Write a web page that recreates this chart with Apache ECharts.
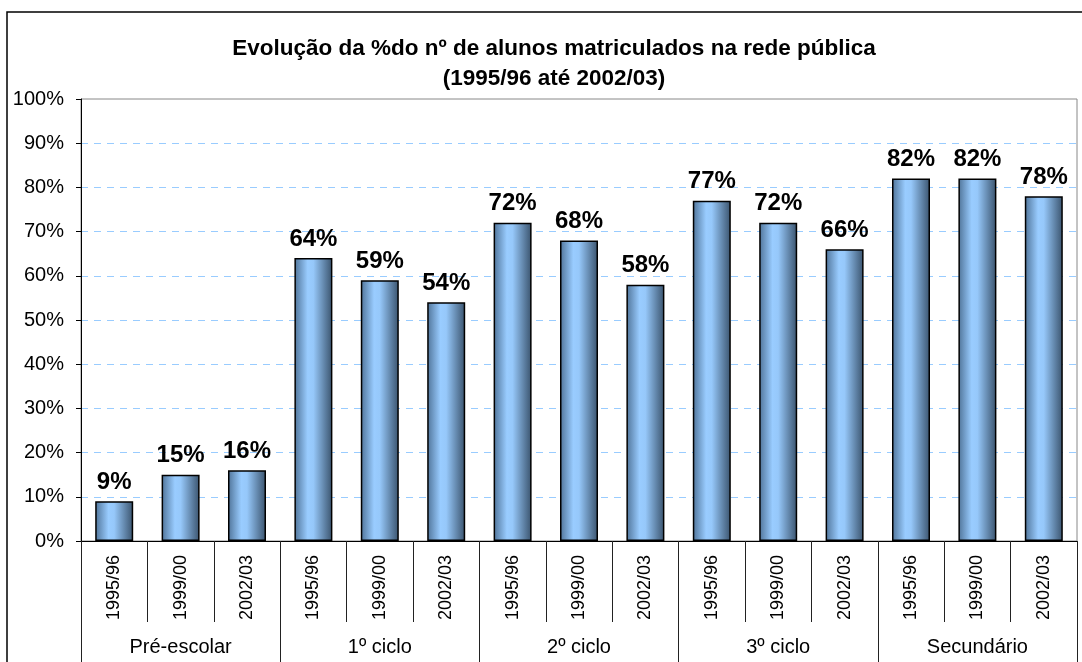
<!DOCTYPE html>
<html>
<head>
<meta charset="utf-8">
<script src="https://cdn.jsdelivr.net/npm/echarts@6/dist/echarts.min.js"></script>
<style>html,body{margin:0;padding:0;background:#fff}#c{width:1082px;height:662px}</style>
</head>
<body>
<div id="c"></div>
<script>
const titleText = 'Evolução da %do nº de alunos matriculados na rede pública\n(1995/96 até 2002/03)';
const groups = ['Pré-escolar', '1º ciclo', '2º ciclo', '3º ciclo', 'Secundário'];
const years = ['1995/96', '1999/00', '2002/03'];
const preEscolar = [9, 15, 16];
const cicloPrimeiro = [64, 59, 54];
const cicloSegundo = [72, 68, 58];
const cicloTerceiro = [77, 72, 66];
const secundario = [82, 82, 78];
const yTicks = [0, 10, 20, 30, 40, 50, 60, 70, 80, 90, 100];

const groupValues = [preEscolar, cicloPrimeiro, cicloSegundo, cicloTerceiro, secundario];
const categories = [];
const values = [];
groupValues.forEach(g => g.forEach((v, i) => { categories.push(years[i]); values.push(v); }));

const FONT = "'Liberation Sans', Arial, sans-serif";
const splitColors = yTicks.map((t, i) => (i === 0 || i === yTicks.length - 1) ? 'rgba(0,0,0,0)' : '#99ccff');

const chart = echarts.init(document.getElementById('c'));
chart.setOption({
  animation: false,
  backgroundColor: '#fff',
  textStyle: { fontFamily: FONT },
  title: {
    text: titleText,
    left: 549,
    textAlign: 'center',
    top: 29,
    textStyle: { fontFamily: FONT, fontSize: 22.5, fontWeight: 'bold', color: '#000', lineHeight: 30 }
  },
  graphic: [{
    type: 'rect', silent: true, z: -1,
    shape: { x: 7, y: 12, width: 1200, height: 800 },
    style: { fill: 'none', stroke: '#000', lineWidth: 1.5 }
  }],
  grid: {
    left: 81, right: 5, top: 99, bottom: 121,
    show: true, borderColor: '#888', borderWidth: 1, backgroundColor: 'rgba(0,0,0,0)'
  },
  yAxis: {
    type: 'value', min: 0, max: 100, interval: 10,
    axisLine: { show: true, lineStyle: { color: '#000', width: 1 } },
    axisTick: { show: true, length: 5, lineStyle: { color: '#000' } },
    axisLabel: { formatter: '{value}%', fontSize: 20, color: '#000', margin: 17, fontFamily: FONT },
    splitLine: { show: true, lineStyle: { color: splitColors, type: [7, 6], width: 1 } }
  },
  xAxis: [{
    type: 'category', data: categories, position: 'bottom',
    axisLine: { show: true, lineStyle: { color: '#000', width: 1 } },
    axisTick: { show: true, interval: 0, length: 81, lineStyle: { color: '#222', width: 1 } },
    axisLabel: { interval: 0, rotate: 90, margin: 14, fontSize: 18, color: '#000', fontFamily: FONT }
  }, {
    type: 'category', data: groups, position: 'bottom',
    axisLine: { show: false },
    axisTick: { show: true, interval: 0, length: 121, lineStyle: { color: '#222', width: 1 } },
    axisLabel: { interval: 0, margin: 96, fontSize: 20, color: '#000', fontFamily: FONT }
  }],
  series: [{
    type: 'bar', xAxisIndex: 0, data: values, barWidth: 38,
    itemStyle: {
      borderColor: '#000', borderWidth: 1.5,
      color: new echarts.graphic.LinearGradient(0, 0, 1, 0, [
        { offset: 0, color: '#4f7398' },
        { offset: 0.35, color: '#99ccff' },
        { offset: 0.5, color: '#96c8fa' },
        { offset: 1, color: '#3a536d' }
      ])
    },
    label: {
      show: true, position: 'top', distance: 7, formatter: '{c}%',
      fontSize: 24, fontWeight: 'bold', color: '#000', fontFamily: FONT
    }
  }]
});
</script>
</body>
</html>
